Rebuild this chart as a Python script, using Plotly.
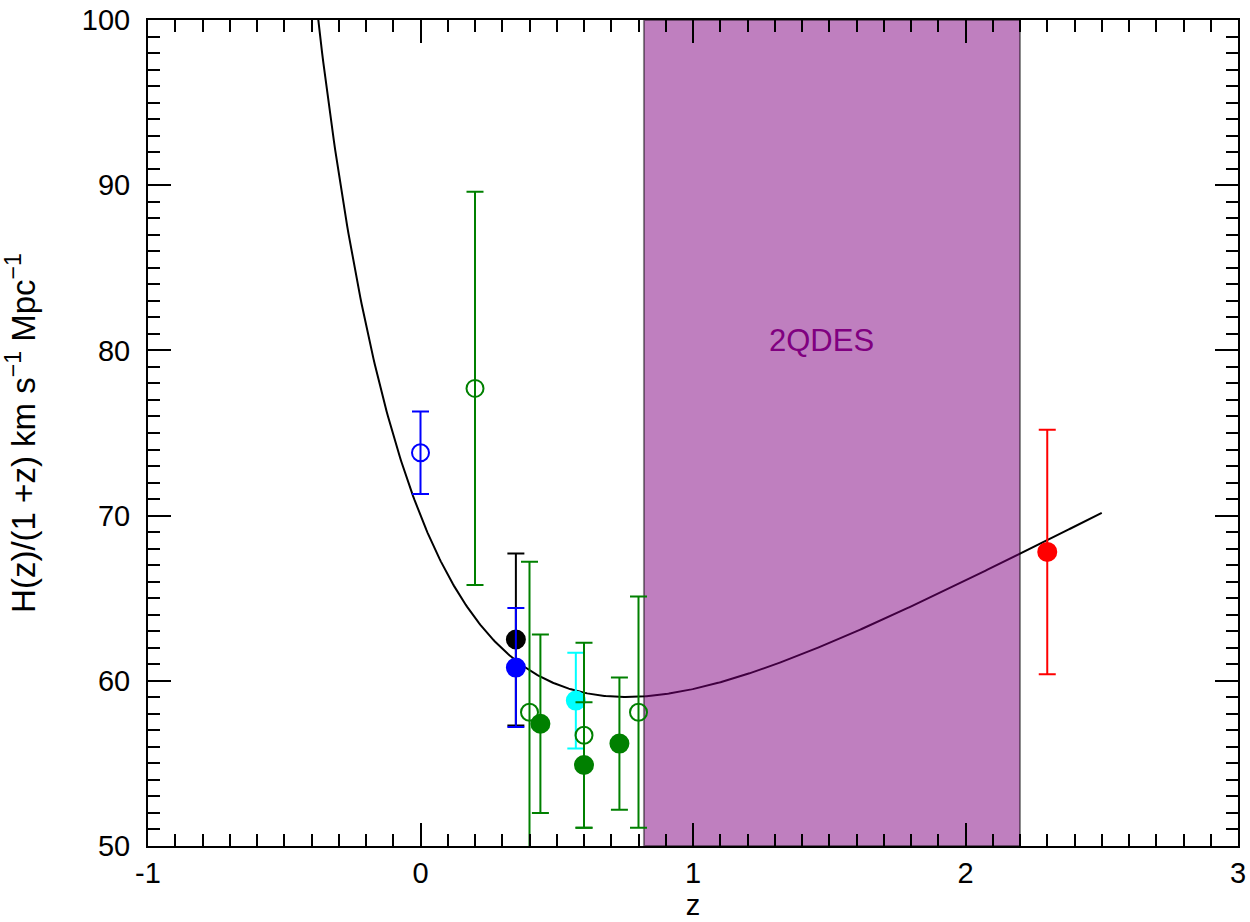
import numpy as np
import plotly.graph_objects as go

# Expansion-rate measurements H(z)/(1+z) [km/s/Mpc]
z_pts = [0.0, 0.2, 0.35, 0.35, 0.4, 0.44, 0.57, 0.6, 0.6, 0.73, 0.8, 2.3]
h_pts = [73.8, 77.7, 62.5, 60.8, 58.1, 57.4, 58.8, 56.7, 54.9, 56.2, 58.1, 67.8]
h_err = [2.5, 11.9, 5.2, 3.6, 9.1, 5.4, 2.9, 5.6, 3.8, 4.0, 7.0, 7.4]
pt_color = ["blue", "green", "black", "blue", "green", "green", "cyan",
            "green", "green", "green", "green", "red"]
pt_filled = [False, False, True, True, False, True, True, False, True, True, False, True]

# Flat LCDM model parameters
H0 = 70.0
omega_m = 0.27
omega_l = 0.73
z_model_min, z_model_max = -0.4, 2.5

# 2QDES redshift coverage
survey_z = [0.82, 2.2]
survey_label = "2QDES"

x_range = [-1, 3]
y_range = [50, 100]
x_ticks = [-1, 0, 1, 2, 3]
x_tick_labels = ["-1", "0", "1", "2", "3"]
y_ticks = [50, 60, 70, 80, 90, 100]
y_tick_labels = ["50", "60", "70", "80", "90", "100"]

z_model = np.linspace(z_model_min, z_model_max, 600)
h_model = H0 * np.sqrt(omega_m * (1 + z_model) ** 3 + omega_l) / (1 + z_model)

fig = go.Figure()

fig.add_trace(go.Scatter(
    x=z_model, y=h_model, mode="lines",
    line=dict(color="black", width=2), showlegend=False, hoverinfo="skip"))

# shaded survey band, drawn over the model curve
fig.add_trace(go.Scatter(
    x=[survey_z[0], survey_z[1], survey_z[1], survey_z[0], survey_z[0]],
    y=[y_range[0], y_range[0], y_range[1], y_range[1], y_range[0]],
    mode="lines", fill="toself", fillcolor="rgba(128,0,128,0.5)",
    line=dict(color="rgba(0,0,0,0.45)", width=2),
    showlegend=False, hoverinfo="skip"))

for z, h, e, c, f in zip(z_pts, h_pts, h_err, pt_color, pt_filled):
    fig.add_trace(go.Scatter(
        x=[z], y=[h], mode="markers",
        marker=dict(
            symbol="circle" if f else "circle-open",
            size=18 if f else 17,
            color=c,
            line=dict(width=2, color=c)),
        error_y=dict(type="data", array=[e], color=c, thickness=2, width=8.5),
        showlegend=False))

fig.add_annotation(
    x=1.47, y=80.6, text=survey_label,
    showarrow=False, font=dict(family="Liberation Sans", size=31, color="purple"))

axis_common = dict(
    showline=True, linecolor="black", linewidth=2, mirror="allticks",
    ticks="inside", ticklen=23, tickwidth=2, tickcolor="black",
    showgrid=False, zeroline=False,
    tickfont=dict(family="Liberation Sans", size=29, color="black"),
)

fig.update_xaxes(
    range=x_range, tickmode="array", tickvals=x_ticks, ticktext=x_tick_labels,
    minor=dict(ticks="inside", ticklen=12, tickwidth=2, tickcolor="black",
               tickmode="linear", tick0=0, dtick=0.1, showgrid=False),
    title=dict(text="z", font=dict(family="Liberation Sans", size=29, color="black"), standoff=2),
    **axis_common)
fig.update_yaxes(
    range=y_range, tickmode="array", tickvals=y_ticks, ticktext=y_tick_labels,
    minor=dict(ticks="inside", ticklen=12, tickwidth=2, tickcolor="black",
               tickmode="linear", tick0=0, dtick=1, showgrid=False),
    ticklabelstandoff=10,
    title=dict(text="H(z)/(1 +z) km s<sup>\u22121</sup> Mpc<sup>\u22121</sup>",
               font=dict(family="Liberation Sans", size=33, color="black"), standoff=42),
    **axis_common)

fig.update_layout(
    width=1250, height=922,
    margin=dict(l=148, r=12, t=20, b=76, autoexpand=False),
    plot_bgcolor="white", paper_bgcolor="white",
)

fig.write_html("out.html")
